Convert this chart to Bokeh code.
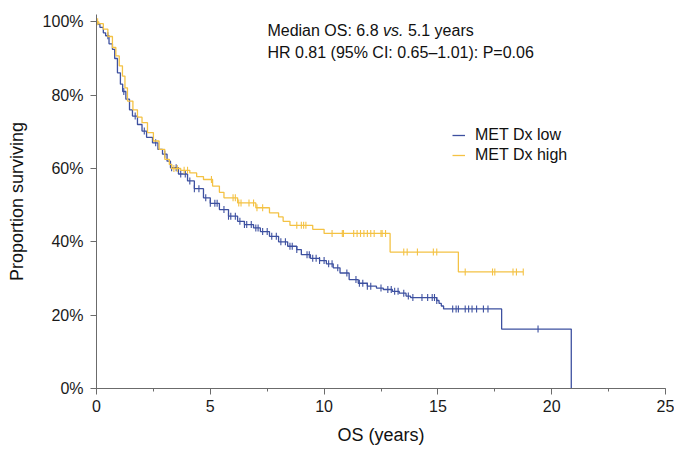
import numpy as np
from bokeh.plotting import figure
from bokeh.models import (Range1d, SingleIntervalTicker, FixedTicker, NumeralTickFormatter,
                          Label, Legend, LegendItem)
from bokeh.embed import file_html
from bokeh.resources import INLINE

# ---------------- data ----------------
low_times = [0, 0.04, 0.15, 0.3, 0.4, 0.55, 0.7, 0.8, 0.92, 1.05, 1.15, 1.29, 1.45, 1.58, 1.8,
             2.0, 2.2, 2.46, 2.7, 2.9, 3.1, 3.25, 3.6, 4.0, 4.3, 4.7, 5.0, 5.4, 5.8, 6.2, 6.5,
             6.9, 7.2, 7.6, 8.0, 8.4, 8.8, 9.0, 9.4, 9.8, 10.1, 10.4, 10.7, 11.1, 11.5, 11.9,
             12.3, 12.6, 13.0, 13.3, 13.6, 13.8, 14.95, 15.05, 15.15, 15.25, 17.8, 20.86]
low_surv = [1.0, 0.994, 0.985, 0.97, 0.962, 0.94, 0.925, 0.90, 0.861, 0.83, 0.81, 0.789, 0.76,
            0.743, 0.72, 0.702, 0.685, 0.67, 0.652, 0.639, 0.62, 0.602, 0.585, 0.566, 0.545,
            0.52, 0.505, 0.488, 0.47, 0.456, 0.447, 0.438, 0.428, 0.415, 0.40, 0.388, 0.379,
            0.365, 0.355, 0.349, 0.34, 0.329, 0.315, 0.297, 0.287, 0.279, 0.274, 0.27, 0.265,
            0.26, 0.252, 0.248, 0.24, 0.232, 0.225, 0.217, 0.162, 0.0]
low_censor = [0.5, 1.2, 1.7, 2.1, 2.6, 3.0, 3.3, 3.5, 3.7, 3.9, 4.1, 4.3, 4.5, 4.8, 5.0, 5.2,
              5.3, 5.6, 5.8, 5.9, 6.1, 6.3, 6.5, 6.6, 6.8, 7.0, 7.1, 7.3, 7.5, 7.7, 7.9, 8.1,
              8.3, 8.5, 8.6, 8.8, 9.25, 9.35, 9.5, 9.65, 9.8, 10.0, 10.2, 10.35, 10.6, 11.0,
              11.4, 11.55, 11.7, 11.9, 12.05, 12.5, 12.8, 12.95, 13.1, 13.25, 13.5, 13.7,
              13.9, 14.3, 14.55, 14.75, 14.85, 14.95, 15.65, 15.8, 15.9, 16.2, 16.35, 16.5,
              16.7, 17.0, 17.2, 19.4]

high_times = [0, 0.1, 0.3, 0.5, 0.7, 0.85, 1.0, 1.14, 1.25, 1.36, 1.6, 1.8, 2.0, 2.24, 2.5,
              2.75, 3.0, 3.2, 3.3, 3.7, 4.1, 4.4, 4.7, 5.1, 5.4, 5.6, 6.2, 7.0, 7.6, 8.0, 8.2,
              8.5, 9.5, 10.0, 12.9, 15.9]
high_surv = [1.0, 0.995, 0.98, 0.96, 0.93, 0.907, 0.88, 0.852, 0.82, 0.784, 0.76, 0.74, 0.725,
             0.698, 0.675, 0.652, 0.625, 0.611, 0.60, 0.595, 0.588, 0.578, 0.57, 0.552, 0.535,
             0.52, 0.506, 0.493, 0.479, 0.468, 0.456, 0.445, 0.434, 0.423, 0.372, 0.318]
high_censor = [0.05, 3.4, 3.55, 3.85, 4.0, 5.05, 6.0, 6.1, 6.25, 6.35, 6.7, 6.9, 7.05, 7.3,
               8.8, 9.0, 9.1, 9.2, 10.35, 10.8, 10.85, 11.3, 11.45, 11.6, 11.75, 11.9, 12.05,
               12.2, 12.5, 12.55, 12.7, 13.5, 13.65, 14.1, 14.8, 14.95, 16.2, 17.4, 17.5,
               18.3, 18.45, 18.75]

series_names = ["MET Dx low", "MET Dx high"]

BLUE = "#3D50A0"
YELLOW = "#F4C244"
FONT = "Liberation Sans"


def step_arrays(times, surv, censor):
    t = list(times)
    s = list(surv)
    last = max(censor)
    if last > t[-1]:
        t.append(last)
        s.append(s[-1])
    return t, s


def censor_y(times, surv, censor):
    idx = np.searchsorted(np.array(times), np.array(censor), side="right") - 1
    return [surv[i] for i in idx]


p = figure(width=674, height=457, output_backend="svg", toolbar_location=None,
           x_range=Range1d(0, 25), y_range=Range1d(0, 1.02),
           min_border_left=96, min_border_right=9, min_border_top=14, min_border_bottom=69)
p.outline_line_color = None
p.xgrid.visible = False
p.ygrid.visible = False
p.background_fill_color = "white"

renderers = []
for times, surv, cens, color in [(low_times, low_surv, low_censor, BLUE),
                                 (high_times, high_surv, high_censor, YELLOW)]:
    t, s = step_arrays(times, surv, cens)
    r = p.step(t, s, mode="after", line_color=color, line_width=1.3)
    renderers.append(r)
    cy = censor_y(times, surv, cens)
    p.scatter(cens, cy, marker="dash", angle=np.pi / 2, size=7, line_color=color,
              line_width=1.1)

legend = Legend(items=[LegendItem(label=series_names[0], renderers=[renderers[0]]),
                       LegendItem(label=series_names[1], renderers=[renderers[1]])],
                location=(356, 223))
legend.label_text_font = FONT
legend.label_text_font_size = "16px"
legend.label_text_color = "#111111"
legend.glyph_width = 13
legend.glyph_height = 20
legend.label_height = 20
legend.label_standoff = 10
legend.spacing = 0
legend.padding = 0
legend.margin = 0
legend.border_line_alpha = 0
legend.background_fill_alpha = 0
p.add_layout(legend)

# axes
xa = p.xaxis[0]
xa.ticker = SingleIntervalTicker(interval=5, num_minor_ticks=2)
xa.axis_label = "OS (years)"
ya = p.yaxis[0]
ya.ticker = FixedTicker(ticks=[0, 0.2, 0.4, 0.6, 0.8, 1.0])
ya.formatter = NumeralTickFormatter(format="0%")
ya.axis_label = "Proportion surviving"
for ax in (xa, ya):
    ax.axis_line_color = "#6b6b6b"
    ax.major_tick_line_color = "#6b6b6b"
    ax.minor_tick_line_color = "#6b6b6b"
    ax.major_tick_in = 0
    ax.major_tick_out = 6
    ax.minor_tick_in = 0
    ax.major_label_text_font = FONT
    ax.major_label_text_font_size = "16px"
    ax.major_label_text_color = "#1a1a1a"
    ax.axis_label_text_font = FONT
    ax.axis_label_text_font_size = "18px"
    ax.axis_label_text_font_style = "normal"
    ax.axis_label_text_color = "#111111"
xa.minor_tick_out = 3
ya.minor_tick_out = 0
xa.major_label_standoff = 5
ya.major_label_standoff = 7
xa.axis_label_standoff = 10
ya.axis_label_standoff = 13

# annotation text
common = dict(text_font=FONT, text_font_size="16px", text_baseline="middle", text_color="#111111")
p.add_layout(Label(x=7.51, y=0.977, text="Median OS: 6.8", **common))
p.add_layout(Label(x=7.51, y=0.977, x_offset=115.6, text="vs.", text_font_style="italic", **common))
p.add_layout(Label(x=7.51, y=0.977, x_offset=140.5, text="5.1 years", **common))
p.add_layout(Label(x=7.51, y=0.917, text="HR 0.81 (95% CI: 0.65\u20131.01): P=0.06", **common))

open("out.html", "w").write(file_html(p, INLINE))
